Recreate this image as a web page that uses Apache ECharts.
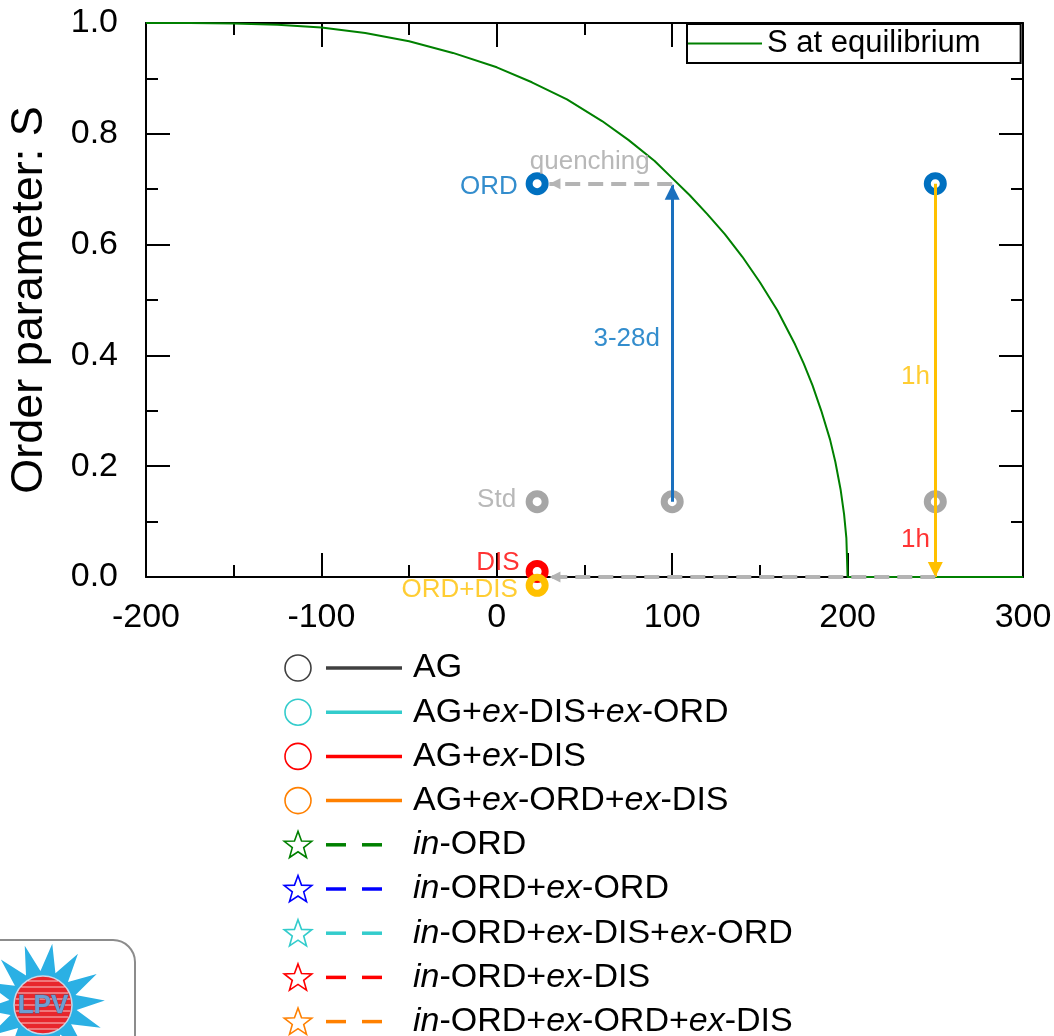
<!DOCTYPE html>
<html>
<head>
<meta charset="utf-8">
<script src="https://cdn.jsdelivr.net/npm/echarts@6/dist/echarts.min.js"></script>
<style>
  html, body { margin: 0; padding: 0; background: #ffffff; }
  #chart { width: 1054px; height: 1036px; }
</style>
</head>
<body>
<div id="chart"></div>
<script>
// ---- data -------------------------------------------------------------
// Equilibrium long-range order parameter S versus temperature (°C)
const eqTemperature = [-200, -175, -150, -125, -100, -75, -50, -25, 0, 20, 40, 60, 75, 90, 100, 110, 120, 130, 140, 150, 160, 170, 175, 180, 185, 190, 193, 196, 198, 199.3, 200, 250, 300];
const eqOrder       = [1.000, 1.000, 0.999, 0.997, 0.992, 0.982, 0.967, 0.946, 0.920, 0.893, 0.862, 0.823, 0.789, 0.751, 0.720, 0.689, 0.655, 0.619, 0.578, 0.532, 0.481, 0.420, 0.385, 0.346, 0.300, 0.248, 0.208, 0.158, 0.113, 0.070, 0, 0, 0];

// Sample states (temperature, S)
const stdTemperature    = [23, 100, 250];
const stdOrder          = [0.136, 0.136, 0.136];
const ordTemperature    = [23, 250];
const ordOrder          = [0.71, 0.71];
const disTemperature    = [23];
const disOrder          = [0.01];
const ordDisTemperature = [23];
const ordDisOrder       = [-0.015];

// Treatment paths: [from, to]
const annealPath   = [[100, 0.136], [100, 0.708]];
const quenchPath   = [[100, 0.71], [30, 0.71]];
const disorderPath = [[250, 0.71], [250, 0]];
const returnPath   = [[250, 0], [30, 0]];

// Axis ticks
const xTicks = [-200, -100, 0, 100, 200, 300];
const yTicks = [0, 0.2, 0.4, 0.6, 0.8, 1.0];

// Annotation texts and their anchor points
const noteTexts   = ['ORD', 'quenching', '3-28d', 'Std', '1h', '1h', 'DIS', 'ORD+DIS'];
const noteAnchors = [[12, 0.705], [53, 0.75], [93, 0.43], [11, 0.139], [247, 0.361], [247, 0.067], [13, 0.025], [12, -0.023]];
const noteColors  = ['#0070C0', '#A6A6A6', '#0070C0', '#A6A6A6', '#FFC000', '#FF0000', '#FF0000', '#FFC000'];

// Sample legend
const circleNames  = ['AG', 'AG+ex-DIS+ex-ORD', 'AG+ex-DIS', 'AG+ex-ORD+ex-DIS'];
const circleColors = ['#404040', '#33CCCC', '#FF0000', '#FF8000'];
const starNames    = ['in-ORD', 'in-ORD+ex-ORD', 'in-ORD+ex-DIS+ex-ORD', 'in-ORD+ex-DIS', 'in-ORD+ex-ORD+ex-DIS'];
const starColors   = ['#008000', '#0000FF', '#33CCCC', '#FF0000', '#FF8000'];

// ---- helpers ----------------------------------------------------------
const FONT = '"Liberation Sans", Arial, sans-serif';
const zip = (xs, ys) => xs.map((x, i) => [x, ys[i]]);

function ringSeries(name, xs, ys, color) {
  return {
    name, type: 'scatter', data: zip(xs, ys), symbol: 'circle', symbolSize: 16,
    clip: false, silent: true, z: 3,
    itemStyle: { color: 'rgba(0,0,0,0)', borderColor: color, borderWidth: 7, opacity: 1 },
    emphasis: { disabled: true }
  };
}

function arrow(path, color, dashed, head) {
  const lineStyle = { color, width: dashed ? 4 : 3, type: dashed ? [15, 8] : 'solid', cap: 'butt', opacity: 1 };
  return [
    { coord: path[0], symbol: 'none', lineStyle },
    { coord: path[1], symbol: 'triangle', symbolSize: [head, head], symbolOffset: [0, head / 2], lineStyle }
  ];
}

function richName(name) {
  return name.split(/(ex|in)(?=-)/).filter(s => s.length).map(s =>
    (s === 'ex' || s === 'in') ? '{i|' + s + '}' : '{n|' + s + '}').join('');
}

const xAxisBase = {
  type: 'value', min: -200, max: 300, interval: 100,
  axisLine: { show: true, onZero: false, lineStyle: { color: '#000', width: 2 } },
  axisTick: { show: true, inside: true, length: 24, lineStyle: { color: '#000', width: 2 } },
  minorTick: { show: true, splitNumber: 2, length: 12, lineStyle: { color: '#000', width: 2 } },
  splitLine: { show: false }, minorSplitLine: { show: false }
};
const yAxisBase = {
  type: 'value', min: 0, max: 1, interval: 0.2,
  axisLine: { show: true, onZero: false, lineStyle: { color: '#000', width: 2 } },
  axisTick: { show: true, inside: true, length: 24, lineStyle: { color: '#000', width: 2 } },
  minorTick: { show: true, splitNumber: 2, length: 12, lineStyle: { color: '#000', width: 2 } },
  splitLine: { show: false }, minorSplitLine: { show: false }
};

// ---- legend & logo graphics -------------------------------------------
const legendGraphics = [];
const rowY0 = 668, rowGap = 44.2, symX = 298, lineX0 = 326, lineX1 = 402, textX = 413;
const legendRich = {
  n: { fontFamily: FONT, fontSize: 34, fill: '#000' },
  i: { fontFamily: FONT, fontSize: 34, fill: '#000', fontStyle: 'italic' }
};
circleNames.forEach((name, k) => {
  const y = rowY0 + k * rowGap;
  legendGraphics.push(
    { type: 'circle', shape: { cx: symX, cy: y, r: 13 }, style: { fill: 'none', stroke: circleColors[k], lineWidth: 1.6 } },
    { type: 'line', shape: { x1: lineX0, y1: y, x2: lineX1, y2: y }, style: { stroke: circleColors[k], lineWidth: 3.5 } },
    { type: 'text', x: textX, y: y, style: { text: richName(name), rich: legendRich, verticalAlign: 'middle', align: 'left', fontFamily: FONT, fontSize: 34 } }
  );
});
function starPoints(cx, cy, ro, ri) {
  const pts = [];
  for (let j = 0; j < 10; j++) {
    const r = j % 2 ? ri : ro;
    const a = -Math.PI / 2 + j * Math.PI / 5;
    pts.push([cx + r * Math.cos(a), cy + r * Math.sin(a)]);
  }
  return pts;
}
starNames.forEach((name, k) => {
  const y = rowY0 + (circleNames.length + k) * rowGap;
  legendGraphics.push(
    { type: 'polygon', shape: { points: starPoints(symX, y + 1, 14.5, 6) }, style: { fill: 'none', stroke: starColors[k], lineWidth: 1.6 } },
    { type: 'line', shape: { x1: lineX0, y1: y, x2: lineX0 + 20, y2: y }, style: { stroke: starColors[k], lineWidth: 3.5 } },
    { type: 'line', shape: { x1: lineX0 + 36, y1: y, x2: lineX0 + 56, y2: y }, style: { stroke: starColors[k], lineWidth: 3.5 } },
    { type: 'text', x: textX, y: y, style: { text: richName(name), rich: legendRich, verticalAlign: 'middle', align: 'left', fontFamily: FONT, fontSize: 34 } }
  );
});

// Laboratory logo in the lower-left corner
const logoCx = 43, logoCy = 1005;
const sunPts = [];
for (let j = 0; j < 28; j++) {
  const r = j % 2 ? 34 : 62;
  const a = -Math.PI / 2 + 0.15 + j * Math.PI / 14;
  sunPts.push([logoCx + r * Math.cos(a), logoCy + r * Math.sin(a)]);
}
const logo = [
  { type: 'rect', shape: { x: -20, y: 940, width: 155, height: 130, r: 22 }, style: { fill: '#fff', stroke: '#8c8c8c', lineWidth: 2 } },
  { type: 'polygon', shape: { points: sunPts }, style: { fill: '#2BB0E4' } },
  { type: 'circle', shape: { cx: logoCx, cy: logoCy, r: 29 }, style: { fill: '#E8262C', stroke: '#c9d6e6', lineWidth: 1.5 } }
];
for (let dy = -24; dy <= 24; dy += 6) {
  const half = Math.sqrt(29 * 29 - dy * dy);
  logo.push({ type: 'line', shape: { x1: logoCx - half + 1, y1: logoCy + dy, x2: logoCx + half - 1, y2: logoCy + dy }, style: { stroke: 'rgba(255,255,255,0.75)', lineWidth: 1 } });
}
logo.push({ type: 'text', x: logoCx, y: logoCy + 1, style: { text: 'LPV', fontFamily: FONT, fontSize: 26, fontWeight: 'bold', fill: '#6C9ED2', stroke: '#4a5f80', lineWidth: 0.8, align: 'center', verticalAlign: 'middle' } });

// ---- chart ------------------------------------------------------------
const chart = echarts.init(document.getElementById('chart'), null, { renderer: 'canvas' });
chart.setOption({
  animation: false,
  backgroundColor: '#ffffff',
  textStyle: { fontFamily: FONT },
  grid: { left: 146, right: 31, top: 23, bottom: 459, containLabel: false, outerBoundsMode: 'none' },
  legend: {
    data: [{ name: 'S at equilibrium', icon: 'rect' }], left: 687, top: 24, orient: 'horizontal',
    itemWidth: 74, itemHeight: 2, padding: [4, 40, 4, 1],
    borderColor: '#000', borderWidth: 2, backgroundColor: '#fff',
    itemStyle: { color: '#008000' },
    textStyle: { fontFamily: FONT, fontSize: 31, color: '#000' },
    selectedMode: false
  },
  xAxis: [
    Object.assign({}, xAxisBase, { position: 'bottom',
      axisLabel: { show: true, fontFamily: FONT, fontSize: 34, color: '#000', margin: 24,
        formatter: v => xTicks.includes(v) ? String(v) : '' } }),
    Object.assign({}, xAxisBase, { position: 'top', axisLabel: { show: false } })
  ],
  yAxis: [
    Object.assign({}, yAxisBase, { position: 'left',
      name: 'Order parameter: S', nameLocation: 'middle', nameGap: 94, nameRotate: 90,
      nameTextStyle: { fontFamily: FONT, fontSize: 45, color: '#000' },
      axisLabel: { show: true, fontFamily: FONT, fontSize: 34, color: '#000', margin: 28,
        formatter: v => yTicks.some(t => Math.abs(t - v) < 1e-9) ? v.toFixed(1) : '' } }),
    Object.assign({}, yAxisBase, { position: 'right', axisLabel: { show: false } })
  ],
  series: [
    {
      name: 'S at equilibrium', type: 'line', data: zip(eqTemperature, eqOrder),
      symbol: 'none', showSymbol: false, smooth: false, z: 2, silent: true,
      lineStyle: { color: '#008000', width: 2 }, itemStyle: { color: '#008000' },
      emphasis: { disabled: true }
    },
    ringSeries('Std', stdTemperature, stdOrder, '#A6A6A6'),
    ringSeries('ORD', ordTemperature, ordOrder, '#0070C0'),
    ringSeries('DIS', disTemperature, disOrder, '#FF0000'),
    ringSeries('ORD+DIS', ordDisTemperature, ordDisOrder, '#FFC000'),
    {
      name: 'notes', type: 'scatter', symbolSize: 0, clip: false, silent: true, z: 6,
      data: noteTexts.map((t, i) => ({
        value: noteAnchors[i],
        label: { show: true, formatter: t, color: noteColors[i],
          position: 'inside', align: t === 'quenching' ? 'center' : 'right', verticalAlign: 'middle',
          fontFamily: FONT, fontSize: 26 }
      })),
      emphasis: { disabled: true },
      markLine: {
        silent: true, animation: false, z: 5,
        label: { show: false }, emphasis: { disabled: true },
        data: [
          arrow(annealPath, '#1A70BE', false, 15),
          arrow(quenchPath, '#B4B4B4', true, 11),
          arrow(disorderPath, '#FFC000', false, 15),
          arrow(returnPath, '#B4B4B4', true, 11)
        ]
      }
    }
  ],
  graphic: { elements: logo.concat(legendGraphics) }
});
</script>
</body>
</html>
